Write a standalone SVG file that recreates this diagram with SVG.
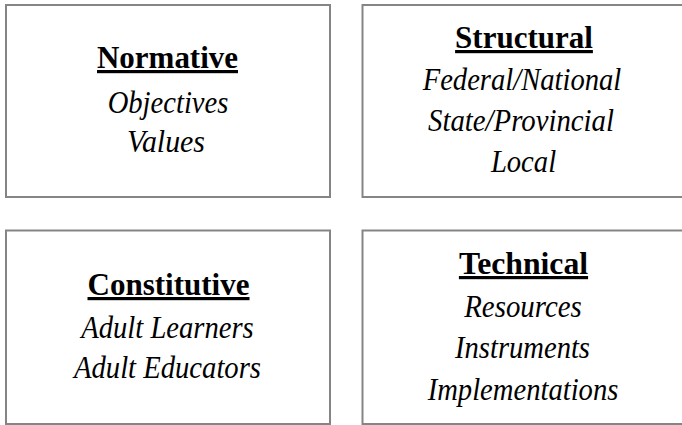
<svg xmlns="http://www.w3.org/2000/svg" width="682" height="425" viewBox="0 0 682 425">
<style>
.box{fill:#fff;stroke:#858585;stroke-width:2}
.h{font-family:"Liberation Serif","Times New Roman",serif;font-weight:bold;font-size:32px;text-anchor:middle;fill:#000;text-decoration:underline}
.i{font-family:"Liberation Serif","Times New Roman",serif;font-style:italic;font-size:30.5px;text-anchor:middle;fill:#000}
</style>
<rect width="682" height="425" fill="#fff"/>
<g id="normative">
<rect class="box" x="6" y="5" width="324" height="192"/>
<text class="h" x="167.5" y="68" textLength="141" lengthAdjust="spacingAndGlyphs">Normative</text>
<text class="i" x="168" y="113" textLength="120.7" lengthAdjust="spacingAndGlyphs">Objectives</text>
<text class="i" x="166" y="152" textLength="78" lengthAdjust="spacingAndGlyphs">Values</text>
</g>
<g id="structural">
<rect class="box" x="362.5" y="5" width="330" height="192"/>
<text class="h" x="524" y="48" textLength="137.8" lengthAdjust="spacingAndGlyphs">Structural</text>
<text class="i" x="522" y="90" textLength="198.6" lengthAdjust="spacingAndGlyphs">Federal/National</text>
<text class="i" x="521" y="131" textLength="186" lengthAdjust="spacingAndGlyphs">State/Provincial</text>
<text class="i" x="523.5" y="172" textLength="65.2" lengthAdjust="spacingAndGlyphs">Local</text>
</g>
<g id="constitutive">
<rect class="box" x="6" y="230.5" width="324" height="193.5"/>
<text class="h" x="168.5" y="295" textLength="162" lengthAdjust="spacingAndGlyphs">Constitutive</text>
<text class="i" x="167.5" y="338" textLength="172.4" lengthAdjust="spacingAndGlyphs">Adult Learners</text>
<text class="i" x="167.5" y="378" textLength="187" lengthAdjust="spacingAndGlyphs">Adult Educators</text>
</g>
<g id="technical">
<rect class="box" x="362.5" y="230.5" width="330" height="193.5"/>
<text class="h" x="523.5" y="274" textLength="129.2" lengthAdjust="spacingAndGlyphs">Technical</text>
<text class="i" x="523" y="316.5" textLength="117.5" lengthAdjust="spacingAndGlyphs">Resources</text>
<text class="i" x="522.5" y="358" textLength="135" lengthAdjust="spacingAndGlyphs">Instruments</text>
<text class="i" x="523" y="399.5" textLength="190.7" lengthAdjust="spacingAndGlyphs">Implementations</text>
</g>
<g id="connectors"/>
</svg>
